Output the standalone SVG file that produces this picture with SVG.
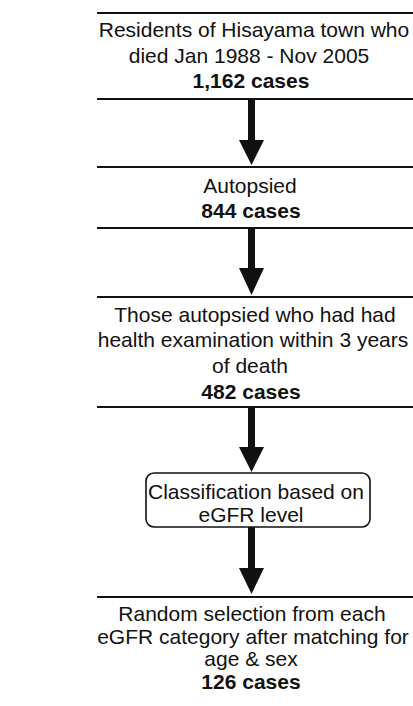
<svg xmlns="http://www.w3.org/2000/svg" width="413" height="706" viewBox="0 0 413 706">
<style>
  text { font-family: "Liberation Sans", Arial, sans-serif; font-size: 21px; fill: #111; text-anchor: middle; }
  .b { font-weight: bold; }
  .edge { stroke: #111; stroke-width: 2; fill: none; }
  .round { stroke: #111; stroke-width: 1.6; fill: none; }
  .arrow { fill: #111; stroke: none; }
</style>
<rect width="413" height="706" fill="#fff"/>

<g id="node-residents">
  <line class="edge" x1="97" y1="13" x2="413" y2="13"/>
  <line class="edge" x1="97" y1="99" x2="413" y2="99"/>
  <text x="254" y="37">Residents of Hisayama town who</text>
  <text x="249" y="63">died Jan 1988 - Nov 2005</text>
  <text class="b" x="251" y="88">1,162 cases</text>
</g>

<g id="node-autopsied">
  <line class="edge" x1="97" y1="167" x2="413" y2="167"/>
  <line class="edge" x1="97" y1="228" x2="413" y2="228"/>
  <text x="250" y="193">Autopsied</text>
  <text class="b" x="251" y="218">844 cases</text>
</g>

<g id="node-health-exam">
  <line class="edge" x1="97" y1="297" x2="413" y2="297"/>
  <line class="edge" x1="97" y1="407" x2="413" y2="407"/>
  <text x="255" y="322">Those autopsied who had had</text>
  <text x="253" y="347">health examination within 3 years</text>
  <text x="250" y="373">of death</text>
  <text class="b" x="251" y="399">482 cases</text>
</g>

<g id="node-classification">
  <rect class="round" x="146" y="473" width="224" height="54" rx="8" ry="8"/>
  <text x="256" y="499">Classification based on</text>
  <text x="251" y="522">eGFR level</text>
</g>

<g id="node-random">
  <line class="edge" x1="97" y1="597" x2="413" y2="597"/>
  <text x="252" y="621">Random selection from each</text>
  <text x="253" y="644">eGFR category after matching for</text>
  <text x="251" y="666">age &amp; sex</text>
  <text class="b" x="251" y="689">126 cases</text>
</g>

<g id="connectors">
  <path class="arrow" d="M 248 99 L 255 99 L 255 140 L 264 140 L 251.5 165 L 239 140 L 248 140 Z"/>
  <path class="arrow" d="M 248 228 L 255 228 L 255 268 L 264 268 L 251.5 295 L 239 268 L 248 268 Z"/>
  <path class="arrow" d="M 248 407 L 255 407 L 255 447 L 264 447 L 251.5 472 L 239 447 L 248 447 Z"/>
  <path class="arrow" d="M 248 527 L 255 527 L 255 568 L 264 568 L 251.5 594 L 239 568 L 248 568 Z"/>
</g>
</svg>
